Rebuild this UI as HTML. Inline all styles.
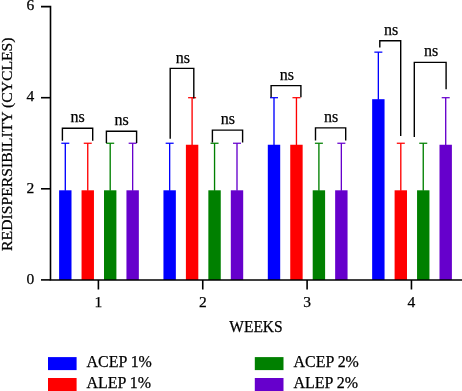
<!DOCTYPE html>
<html><head><meta charset="utf-8"><style>
html,body{margin:0;padding:0;background:#fff;width:462px;height:391px;overflow:hidden}
svg{display:block;will-change:transform}
text{font-family:"Liberation Serif", serif;fill:#000;stroke:#000;stroke-width:0.25px}
</style></head><body>
<svg width="462" height="391" viewBox="0 0 462 391">
<rect x="59.10" y="190.30" width="12.4" height="89.70" fill="#0000ff"/>
<rect x="81.55" y="190.30" width="12.4" height="89.70" fill="#ff0000"/>
<rect x="104.00" y="190.30" width="12.4" height="89.70" fill="#008000"/>
<rect x="126.45" y="190.30" width="12.4" height="89.70" fill="#6600cc"/>
<rect x="163.45" y="190.30" width="12.4" height="89.70" fill="#0000ff"/>
<rect x="185.90" y="144.75" width="12.4" height="135.25" fill="#ff0000"/>
<rect x="208.35" y="190.30" width="12.4" height="89.70" fill="#008000"/>
<rect x="230.80" y="190.30" width="12.4" height="89.70" fill="#6600cc"/>
<rect x="267.80" y="144.75" width="12.4" height="135.25" fill="#0000ff"/>
<rect x="290.25" y="144.75" width="12.4" height="135.25" fill="#ff0000"/>
<rect x="312.70" y="190.30" width="12.4" height="89.70" fill="#008000"/>
<rect x="335.15" y="190.30" width="12.4" height="89.70" fill="#6600cc"/>
<rect x="372.15" y="99.20" width="12.4" height="180.80" fill="#0000ff"/>
<rect x="394.60" y="190.30" width="12.4" height="89.70" fill="#ff0000"/>
<rect x="417.05" y="190.30" width="12.4" height="89.70" fill="#008000"/>
<rect x="439.50" y="144.75" width="12.4" height="135.25" fill="#6600cc"/>
<line x1="65.30" y1="190.80" x2="65.30" y2="143.25" stroke="#0000ff" stroke-width="1.35"/>
<line x1="61.30" y1="143.25" x2="69.30" y2="143.25" stroke="#0000ff" stroke-width="1.25"/>
<line x1="87.75" y1="190.80" x2="87.75" y2="143.25" stroke="#ff0000" stroke-width="1.35"/>
<line x1="83.75" y1="143.25" x2="91.75" y2="143.25" stroke="#ff0000" stroke-width="1.25"/>
<line x1="110.20" y1="190.80" x2="110.20" y2="143.25" stroke="#008000" stroke-width="1.35"/>
<line x1="106.20" y1="143.25" x2="114.20" y2="143.25" stroke="#008000" stroke-width="1.25"/>
<line x1="132.65" y1="190.80" x2="132.65" y2="143.25" stroke="#6600cc" stroke-width="1.35"/>
<line x1="128.65" y1="143.25" x2="136.65" y2="143.25" stroke="#6600cc" stroke-width="1.25"/>
<line x1="169.65" y1="190.80" x2="169.65" y2="143.25" stroke="#0000ff" stroke-width="1.35"/>
<line x1="165.65" y1="143.25" x2="173.65" y2="143.25" stroke="#0000ff" stroke-width="1.25"/>
<line x1="192.10" y1="145.25" x2="192.10" y2="97.70" stroke="#ff0000" stroke-width="1.35"/>
<line x1="188.10" y1="97.70" x2="196.10" y2="97.70" stroke="#ff0000" stroke-width="1.25"/>
<line x1="214.55" y1="190.80" x2="214.55" y2="143.25" stroke="#008000" stroke-width="1.35"/>
<line x1="210.55" y1="143.25" x2="218.55" y2="143.25" stroke="#008000" stroke-width="1.25"/>
<line x1="237.00" y1="190.80" x2="237.00" y2="143.25" stroke="#6600cc" stroke-width="1.35"/>
<line x1="233.00" y1="143.25" x2="241.00" y2="143.25" stroke="#6600cc" stroke-width="1.25"/>
<line x1="274.00" y1="145.25" x2="274.00" y2="97.70" stroke="#0000ff" stroke-width="1.35"/>
<line x1="270.00" y1="97.70" x2="278.00" y2="97.70" stroke="#0000ff" stroke-width="1.25"/>
<line x1="296.45" y1="145.25" x2="296.45" y2="97.70" stroke="#ff0000" stroke-width="1.35"/>
<line x1="292.45" y1="97.70" x2="300.45" y2="97.70" stroke="#ff0000" stroke-width="1.25"/>
<line x1="318.90" y1="190.80" x2="318.90" y2="143.25" stroke="#008000" stroke-width="1.35"/>
<line x1="314.90" y1="143.25" x2="322.90" y2="143.25" stroke="#008000" stroke-width="1.25"/>
<line x1="341.35" y1="190.80" x2="341.35" y2="143.25" stroke="#6600cc" stroke-width="1.35"/>
<line x1="337.35" y1="143.25" x2="345.35" y2="143.25" stroke="#6600cc" stroke-width="1.25"/>
<line x1="378.35" y1="99.70" x2="378.35" y2="52.15" stroke="#0000ff" stroke-width="1.35"/>
<line x1="374.35" y1="52.15" x2="382.35" y2="52.15" stroke="#0000ff" stroke-width="1.25"/>
<line x1="400.80" y1="190.80" x2="400.80" y2="143.25" stroke="#ff0000" stroke-width="1.35"/>
<line x1="396.80" y1="143.25" x2="404.80" y2="143.25" stroke="#ff0000" stroke-width="1.25"/>
<line x1="423.25" y1="190.80" x2="423.25" y2="143.25" stroke="#008000" stroke-width="1.35"/>
<line x1="419.25" y1="143.25" x2="427.25" y2="143.25" stroke="#008000" stroke-width="1.25"/>
<line x1="445.70" y1="145.25" x2="445.70" y2="97.70" stroke="#6600cc" stroke-width="1.35"/>
<line x1="441.70" y1="97.70" x2="449.70" y2="97.70" stroke="#6600cc" stroke-width="1.25"/>
<path d="M41 6.60 H50.5 V280 H462" fill="none" stroke="#000" stroke-width="1.6"/>
<line x1="41" y1="279.90" x2="50.5" y2="279.90" stroke="#000" stroke-width="1.6"/>
<line x1="41" y1="188.80" x2="50.5" y2="188.80" stroke="#000" stroke-width="1.6"/>
<line x1="41" y1="97.70" x2="50.5" y2="97.70" stroke="#000" stroke-width="1.6"/>
<line x1="98.40" y1="280" x2="98.40" y2="289.5" stroke="#000" stroke-width="1.6"/>
<line x1="202.75" y1="280" x2="202.75" y2="289.5" stroke="#000" stroke-width="1.6"/>
<line x1="307.10" y1="280" x2="307.10" y2="289.5" stroke="#000" stroke-width="1.6"/>
<line x1="411.45" y1="280" x2="411.45" y2="289.5" stroke="#000" stroke-width="1.6"/>
<path d="M62.4 140.7 V128.3 H92.7 V140.7" fill="none" stroke="#000" stroke-width="1.4"/>
<path d="M106.4 143 V131.2 H136.6 V143" fill="none" stroke="#000" stroke-width="1.4"/>
<path d="M170.2 138.8 V68.4 H193.8 V98.4" fill="none" stroke="#000" stroke-width="1.4"/>
<path d="M212.4 142.6 V130.1 H242.6 V142.6" fill="none" stroke="#000" stroke-width="1.4"/>
<path d="M271.1 97.3 V85.6 H300.9 V97.3" fill="none" stroke="#000" stroke-width="1.4"/>
<path d="M315.5 140.4 V127.9 H345.7 V140.4" fill="none" stroke="#000" stroke-width="1.4"/>
<path d="M379.8 47.4 V40.7 H400.7 V136" fill="none" stroke="#000" stroke-width="1.4"/>
<path d="M414.3 137 V62.4 H446.1 V89.2" fill="none" stroke="#000" stroke-width="1.4"/>
<text x="77.7" y="121.9" text-anchor="middle" font-size="16">ns</text>
<text x="121.6" y="124.8" text-anchor="middle" font-size="16">ns</text>
<text x="182.8" y="62.9" text-anchor="middle" font-size="16">ns</text>
<text x="227.8" y="123.8" text-anchor="middle" font-size="16">ns</text>
<text x="286.9" y="79.8" text-anchor="middle" font-size="16">ns</text>
<text x="331" y="122.1" text-anchor="middle" font-size="16">ns</text>
<text x="391" y="34.6" text-anchor="middle" font-size="16">ns</text>
<text x="431.1" y="56.1" text-anchor="middle" font-size="16">ns</text>
<text x="34.3" y="283.60" text-anchor="end" font-size="15.5">0</text>
<text x="34.3" y="192.50" text-anchor="end" font-size="15.5">2</text>
<text x="34.3" y="101.40" text-anchor="end" font-size="15.5">4</text>
<text x="34.3" y="10.30" text-anchor="end" font-size="15.5">6</text>
<text x="98.40" y="306.8" text-anchor="middle" font-size="15.5">1</text>
<text x="202.75" y="306.8" text-anchor="middle" font-size="15.5">2</text>
<text x="307.10" y="306.8" text-anchor="middle" font-size="15.5">3</text>
<text x="411.45" y="306.8" text-anchor="middle" font-size="15.5">4</text>
<text x="256" y="331.7" text-anchor="middle" font-size="15.8" textLength="53.4" lengthAdjust="spacingAndGlyphs">WEEKS</text>
<text transform="translate(12.2 144.2) rotate(-90)" text-anchor="middle" font-size="15.5" textLength="213.4" lengthAdjust="spacingAndGlyphs">REDISPERSIBILITY (CYCLES)</text>
<rect x="48" y="357.1" width="28.6" height="13" fill="#0000ff"/>
<rect x="48" y="378" width="28.6" height="13" fill="#ff0000"/>
<rect x="254.8" y="357.1" width="28.7" height="13" fill="#008000"/>
<rect x="254.8" y="378" width="28.7" height="13" fill="#6600cc"/>
<text x="86.5" y="367.2" font-size="16" textLength="65.4" lengthAdjust="spacingAndGlyphs">ACEP 1%</text>
<text x="86.5" y="388.4" font-size="16" textLength="64.6" lengthAdjust="spacingAndGlyphs">ALEP 1%</text>
<text x="293.5" y="367.2" font-size="16" textLength="65.4" lengthAdjust="spacingAndGlyphs">ACEP 2%</text>
<text x="293.5" y="388.4" font-size="16" textLength="64.6" lengthAdjust="spacingAndGlyphs">ALEP 2%</text>
</svg>
</body></html>
